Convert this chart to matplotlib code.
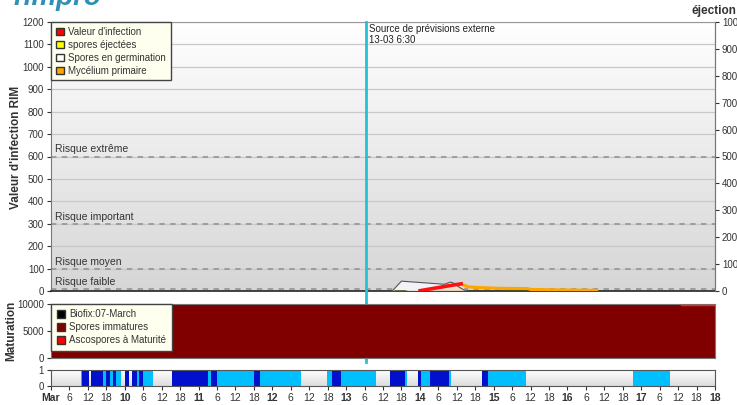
import numpy as np
import matplotlib
matplotlib.use('Agg')
import matplotlib.pyplot as plt
from matplotlib.patches import Patch
from matplotlib.colors import LinearSegmentedColormap

plt.rcParams['font.family'] = ['Liberation Sans', 'DejaVu Sans']

# ---------------- data ----------------
# time axis: hours from 9 March 00:00 to 18 March 00:00
x_ticks = list(range(0, 217, 6))
x_tick_labels = ['Mar', '6', '12', '18', '10', '6', '12', '18', '11', '6', '12', '18',
                 '12', '6', '12', '18', '13', '6', '12', '18', '14', '6', '12', '18',
                 '15', '6', '12', '18', '16', '6', '12', '18', '17', '6', '12', '18', '18']
forecast_hour = 102.5  # 13-03 6:30

risk_names = ['Risque extrême', 'Risque important', 'Risque moyen', 'Risque faible']
risk_values = [600, 300, 100, 10]

# Spores en germination
germ_t = [111, 114, 118, 122, 126, 128, 130, 131, 133, 135]
germ_v = [0, 44, 40, 36, 32, 30, 40, 35, 15, 0]
# Valeur d'infection
rim_t = [119.5, 122, 125, 128, 131, 133, 134]
rim_v = [0, 6, 13, 20, 27, 31, 33]
# Mycélium primaire
myc_t = [134, 136, 140, 146, 155, 156, 165, 177, 178]
myc_v = [27, 18, 15, 12, 11, 7, 5, 3, 0]
# spores éjectées
ej_t = [111, 112, 115, 116, 146, 147, 155, 156]
ej_v = [0, 3, 3, 0, 0, 3, 3, 0]

# Maturation
mat_t = [0, 216]
immature_v = [10000, 10000]
mature_t = [205, 216]
mature_v = [9700, 9700]

# Wetness bar: segment start hours and state (0 dry, 1 wet, 2 light wet)
wet_start = [0, 9.7, 10.2, 12.5, 13.0, 17.0, 17.9, 19.2, 20.1, 21.2, 22.8, 24.1, 25.5,
             26.3, 28.1, 28.6, 30.0, 33.3, 39.3, 51.0, 52.0, 53.9, 66.1, 68.0, 81.3,
             89.7, 91.3, 94.3, 105.7, 110.3, 115.3, 115.9, 119.3, 120.3, 123.3, 129.4,
             130.1, 140.1, 142.1, 154.4, 189.2, 201.4]
wet_state = [0, 2, 1, 0, 1, 2, 1, 2, 1, 2, 0, 1, 0,
             1, 2, 1, 2, 0, 1, 2, 1, 2, 1, 2, 0,
             2, 1, 2, 0, 1, 2, 0, 1, 2, 1, 2,
             0, 1, 2, 0, 2, 0]
wet_end = 216

# ---------------- figure ----------------
W, H = 737, 405
fig = plt.figure(figsize=(W / 100, H / 100), dpi=100)

def frac(x0, y0, x1, y1):
    return [x0 / W, 1 - y1 / H, (x1 - x0) / W, (y1 - y0) / H]

ax = fig.add_axes(frac(51, 22, 715, 291))
axm = fig.add_axes(frac(51, 303.5, 715, 358))
axw = fig.add_axes(frac(51, 370, 715, 386))

def gradient(a, top, bottom):
    a.set_autoscale_on(False)
    g = np.linspace(0, 1, 256).reshape(-1, 1)
    cm = LinearSegmentedColormap.from_list('g', [top, bottom])
    a.imshow(g, extent=[0, 1, 0, 1], transform=a.transAxes, aspect='auto',
             cmap=cm, zorder=0, interpolation='bilinear')

tc = '#333333'

# ---- main chart ----
gradient(ax, '#ffffff', '#d6d6d6')
ax.set_xlim(0, 216)
ax.set_ylim(0, 1200)
ax.set_yticks(range(0, 1201, 100))
for v in range(100, 1201, 100):
    ax.axhline(v, color='#c8c8c8', lw=0.9, zorder=1)
for name, v in zip(risk_names, risk_values):
    ax.axhline(v, color='#999999', lw=1.3, ls=(0, (3, 3)), zorder=2)
    ax.text(1.3, v + 9, name, fontsize=7.5, color=tc, va='bottom', ha='left', zorder=3)

ax.fill_between(germ_t, germ_v, color='#f3f2f8', zorder=4)
ax.plot(germ_t, germ_v, color='#555555', lw=0.8, zorder=6)
ax.fill_between(rim_t, rim_v, color='#f5dcc6', zorder=5)
ax.fill_between(ej_t, ej_v, color='#c8c020', edgecolor='#4a4a10', lw=0.8, zorder=6)
ax.plot(myc_t, myc_v, color='#ffa500', lw=2.2, zorder=7, solid_capstyle='butt')
ax.plot(rim_t, rim_v, color='#ff1010', lw=2.6, zorder=8, solid_capstyle='butt')

ax.tick_params(axis='x', bottom=False, labelbottom=False)
ax.tick_params(axis='y', labelsize=7, colors=tc, length=3, width=0.8, pad=2)
for s in ['left', 'right']:
    ax.spines[s].set_color('#777777')
ax.spines['bottom'].set_color('#222222')
ax.spines['bottom'].set_linewidth(1.2)
ax.spines['top'].set_color('#999999')
ax.set_ylabel("Valeur d'infection RIM", fontsize=8.5, fontweight='bold', color=tc)
ax.yaxis.set_label_coords(-0.043, 0.535)

ax2 = ax.twinx()
ax2.set_ylim(0, 1000)
ax2.set_yticks(range(0, 1001, 100))
ax2.tick_params(axis='y', labelsize=7, colors=tc, length=3, width=0.8, pad=2)
ax2.spines['right'].set_color('#777777')
for s in ['left', 'top', 'bottom']:
    ax2.spines[s].set_visible(False)

leg = ax.legend(handles=[Patch(facecolor='#ff0000', edgecolor='#333333', label="Valeur d'infection"),
                         Patch(facecolor='#ffff00', edgecolor='#333333', label='spores éjectées'),
                         Patch(facecolor='#ffffff', edgecolor='#333333', label='Spores en germination'),
                         Patch(facecolor='#ffa500', edgecolor='#333333', label='Mycélium primaire')],
                loc='upper left', bbox_to_anchor=(0, 1), borderaxespad=0, fancybox=False,
                framealpha=1, facecolor='#fffff0', edgecolor='#444444', fontsize=7,
                handlelength=0.8, handleheight=0.8, handletextpad=0.5, labelspacing=0.3,
                borderpad=0.5)
leg.set_zorder(20)
for t in leg.get_texts():
    t.set_color(tc)

# forecast line and text
ax.axvline(forecast_hour, ymin=-(362 - 291) / 269, ymax=1, color='#20c4d4', lw=2,
           clip_on=False, zorder=30)
ax.text(forecast_hour + 0.8, 1192, 'Source de prévisions externe\n13-03 6:30', fontsize=7,
        color='#222222', va='top', ha='left', zorder=31, linespacing=1.15)

# ---- maturation ----
axm.set_facecolor('#ffffff')
axm.set_xlim(0, 216)
axm.set_ylim(0, 10000)
axm.fill_between(mat_t, immature_v, color='#800000', zorder=2)
axm.plot(mature_t, mature_v, color='#ff2020', lw=1, zorder=3)
axm.set_yticks([0, 5000, 10000])
axm.tick_params(axis='x', bottom=False, labelbottom=False)
axm.tick_params(axis='y', labelsize=7, colors=tc, length=3, width=0.8, pad=2)
for s in axm.spines.values():
    s.set_color('#777777')
axm.set_ylabel('Maturation', fontsize=8.5, fontweight='bold', color=tc)
axm.yaxis.set_label_coords(-0.051, 0.5)
legm = axm.legend(handles=[Patch(facecolor='#000000', edgecolor='#333333', label='Biofix:07-March'),
                           Patch(facecolor='#800000', edgecolor='#333333', label='Spores immatures'),
                           Patch(facecolor='#ff0000', edgecolor='#333333', label='Ascospores à Maturité')],
                  loc='upper left', bbox_to_anchor=(0, 1), borderaxespad=0, fancybox=False,
                  framealpha=1, facecolor='#fffff0', edgecolor='#444444', fontsize=7,
                  handlelength=0.8, handleheight=0.8, handletextpad=0.5, labelspacing=0.3,
                  borderpad=0.6)
for t in legm.get_texts():
    t.set_color(tc)

# ---- wetness bar ----
gradient(axw, '#ffffff', '#dcdcdc')
axw.set_xlim(0, 216)
axw.set_ylim(0, 1)
wet_colors = {1: '#0010cc', 2: '#00bfff'}
ends = wet_start[1:] + [wet_end]
for s0, s1, st in zip(wet_start, ends, wet_state):
    if st:
        axw.axvspan(s0, s1, color=wet_colors[st], lw=0, zorder=2)
axw.set_yticks([0, 1])
axw.set_xticks(x_ticks)
axw.set_xticklabels(x_tick_labels)
for i, lab in enumerate(axw.get_xticklabels()):
    if x_ticks[i] % 24 == 0:
        lab.set_fontweight('bold')
axw.tick_params(axis='x', labelsize=7.5, colors=tc, length=3, width=0.8, pad=2)
axw.tick_params(axis='y', labelsize=7, colors=tc, length=3, width=0.8, pad=2)
for s in axw.spines.values():
    s.set_color('#555555')

# ---- header texts ----
fig.text(0.018, 1 - 5 / H, 'rimpro', fontsize=20, fontweight='bold', style='italic',
         color='#2f8fb5', va='baseline', ha='left')
fig.text(0.999, 1 - 11 / H, 'éjection', fontsize=8.5, fontweight='bold', color=tc,
         va='center', ha='right')

fig.savefig('out.png', dpi=100)
